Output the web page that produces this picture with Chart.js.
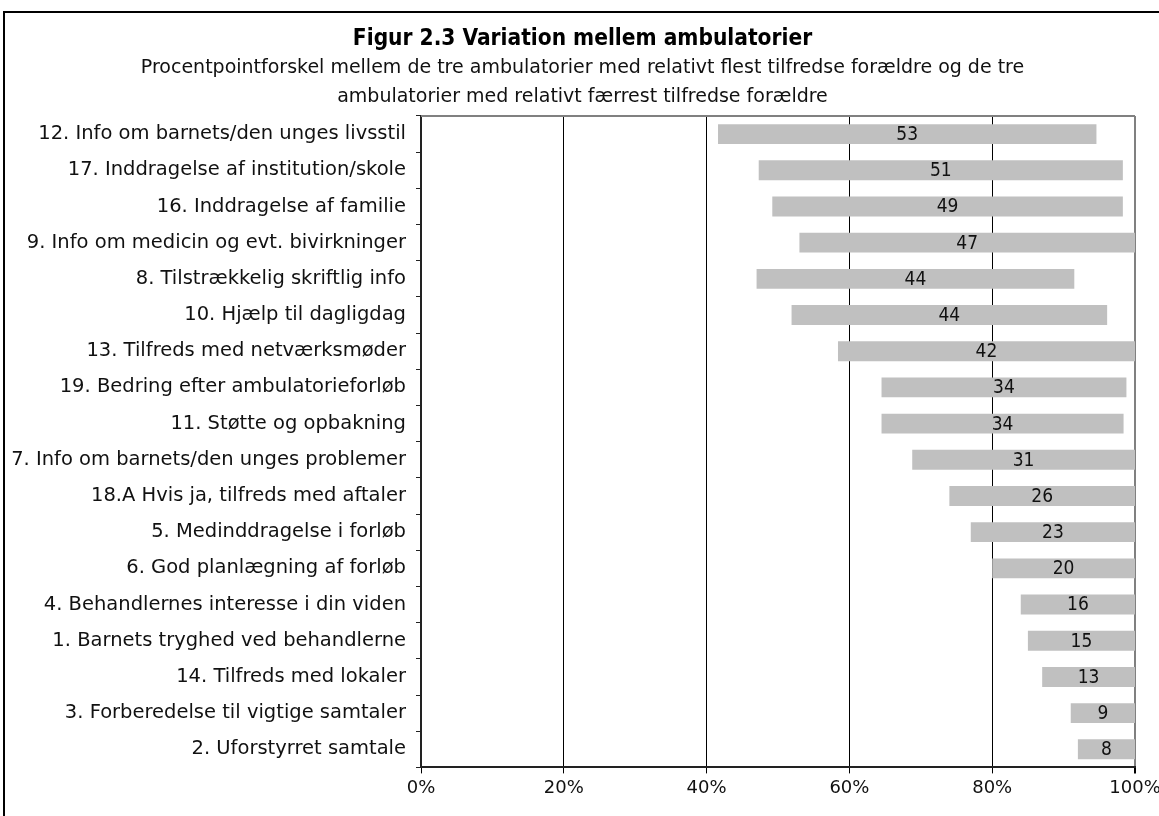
<!DOCTYPE html>
<html>
<head>
<meta charset="utf-8">
<script src="https://cdn.jsdelivr.net/npm/chart.js@4.4.1/dist/chart.umd.min.js"></script>
<style>
  html, body { margin: 0; padding: 0; background: #fff; overflow: hidden; }
  #wrap { position: absolute; left: 0; top: 0; width: 1159px; height: 816px; }
  #frame { position: absolute; left: 3px; top: 11px; width: 1200px; height: 900px; border: 2px solid #000; }
</style>
</head>
<body>
<div id="frame"></div>
<div id="wrap"><canvas id="chart"></canvas></div>
<script>
// spoergsmaal (kategorier), oeverst foerst
const categories = [
  '12. Info om barnets/den unges livsstil',
  '17. Inddragelse af institution/skole',
  '16. Inddragelse af familie',
  '9. Info om medicin og evt. bivirkninger',
  '8. Tilstrækkelig skriftlig info',
  '10. Hjælp til dagligdag',
  '13. Tilfreds med netværksmøder',
  '19. Bedring efter ambulatorieforløb',
  '11. Støtte og opbakning',
  '7. Info om barnets/den unges problemer',
  '18.A Hvis ja, tilfreds med aftaler',
  '5. Medinddragelse i forløb',
  '6. God planlægning af forløb',
  '4. Behandlernes interesse i din viden',
  '1. Barnets tryghed ved behandlerne',
  '14. Tilfreds med lokaler',
  '3. Forberedelse til vigtige samtaler',
  '2. Uforstyrret samtale'
];

// laveste og hoejeste andel tilfredse (%)
const lowValues  = [41.6, 47.3, 49.2, 53.0, 47.0, 51.9, 58.4, 64.5, 64.5, 68.8, 74.0, 77.0, 80.0, 84.0, 85.0, 87.0, 91.0, 92.0];
const highValues = [94.6, 98.3, 98.3, 100, 91.5, 96.1, 100, 98.8, 98.4, 100, 100, 100, 100, 100, 100, 100, 100, 100];

// tallene der staar i soejlerne
const diffLabels = ['53', '51', '49', '47', '44', '44', '42', '34', '34', '31', '26', '23', '20', '16', '15', '13', '9', '8'];

const xTicks = [0, 20, 40, 60, 80, 100];

const FONT = "'DejaVu Sans', sans-serif";
const FONT_C = "'DejaVu Sans Condensed', 'DejaVu Sans', sans-serif";

const barData = categories.map((c, i) => [lowValues[i], highValues[i]]);

// tegner tallet midt i hver soejle + graa kant foroven
const barLabels = {
  id: 'barLabels',
  afterDatasetsDraw(chart) {
    const ctx = chart.ctx;
    const meta = chart.getDatasetMeta(0);
    ctx.save();
    ctx.font = '19px ' + FONT_C;
    ctx.fillStyle = '#111';
    ctx.textAlign = 'center';
    ctx.textBaseline = 'middle';
    meta.data.forEach((bar, i) => {
      const cx = (bar.x + bar.base) / 2;
      ctx.fillText(diffLabels[i], cx, bar.y + 1);
    });
    const a = chart.chartArea;
    ctx.strokeStyle = '#808080';
    ctx.lineWidth = 2;
    ctx.beginPath();
    ctx.moveTo(a.left, a.top);
    ctx.lineTo(a.right, a.top);
    ctx.stroke();
    ctx.restore();
  }
};

new Chart(document.getElementById('chart'), {
  type: 'bar',
  data: {
    labels: categories,
    datasets: [{
      data: barData,
      backgroundColor: '#c0c0c0',
      borderWidth: 0,
      barPercentage: 0.55,
      categoryPercentage: 1
    }]
  },
  options: {
    indexAxis: 'y',
    responsive: true,
    maintainAspectRatio: false,
    animation: false,
    layout: { padding: { left: 6, right: 0, top: 0, bottom: 13 } },
    scales: {
      x: {
        min: 0,
        max: 100,
        afterFit: (scale) => { scale.paddingRight = 24; },
        afterBuildTicks: (scale) => { scale.ticks = xTicks.map(v => ({ value: v })); },
        ticks: {
          callback: (v) => v + '%',
          color: '#111',
          font: { family: FONT, size: 18 },
          padding: 4,
          maxRotation: 0
        },
        grid: {
          color: (c) => c.tick && c.tick.value === 100 ? '#808080' : '#000',
          lineWidth: (c) => c.tick && c.tick.value === 100 ? 2 : 1,
          tickColor: '#000',
          tickLength: 6
        },
        border: { display: true, color: '#222', width: 2 }
      },
      y: {
        afterFit: (scale) => { scale.width = 415; },
        ticks: {
          color: '#111',
          font: { family: FONT, size: 19.5 },
          padding: 10
        },
        grid: {
          offset: true,
          drawOnChartArea: false,
          tickColor: '#222',
          tickLength: 5
        },
        border: { display: true, color: '#222', width: 2 }
      }
    },
    plugins: {
      legend: { display: false },
      tooltip: { enabled: false },
      title: {
        display: true,
        text: 'Figur 2.3 Variation mellem ambulatorier',
        color: '#000',
        font: { family: FONT_C, size: 22.5, weight: 'bold' },
        padding: { top: 26, bottom: 1 }
      },
      subtitle: {
        display: true,
        text: [
          'Procentpointforskel mellem de tre ambulatorier med relativt flest tilfredse forældre og de tre',
          'ambulatorier med relativt færrest tilfredse forældre'
        ],
        color: '#111',
        font: { family: FONT, size: 19, lineHeight: 1.5 },
        padding: { top: 0, bottom: 5 }
      }
    }
  },
  plugins: [barLabels]
});
</script>
</body>
</html>
